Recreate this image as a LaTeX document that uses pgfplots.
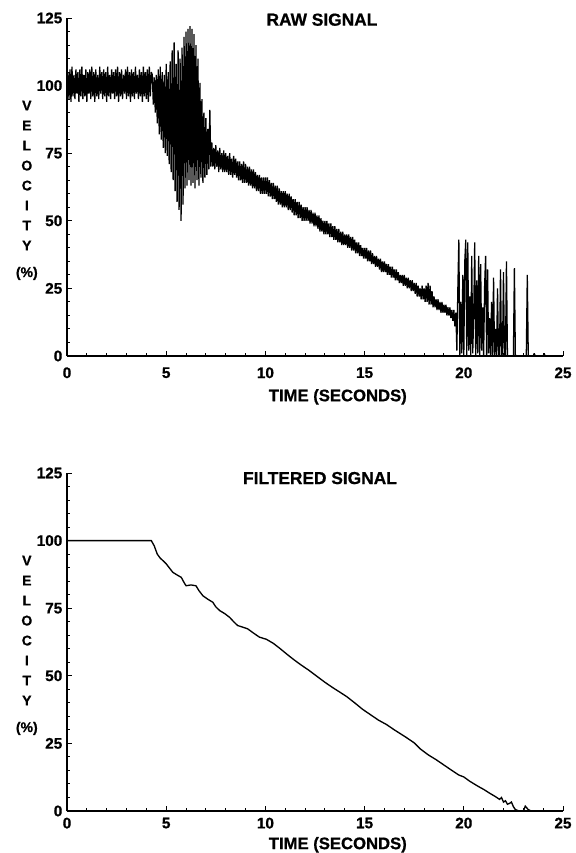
\documentclass[border=0pt]{standalone}
\usepackage{fontspec}
\setmainfont{Liberation Sans}[BoldFeatures={FakeBold=0.8}]
\usepackage{pgfplots}
\pgfplotsset{compat=1.18}

\pgfplotsset{
  velstyle/.style={
    scale only axis,
    width=372pt, height=253.5pt,
    xmin=0, xmax=25, ymin=0, ymax=125,
    axis x line*=bottom, axis y line*=left,
    axis line style={line width=1.1pt},
    xtick={0,5,...,25}, ytick={0,25,...,125},
    minor x tick num=4, minor y tick num=4,
    tick align=inside,
    major tick length=4pt, minor tick length=2.4pt,
    every tick/.style={black, line width=0.7pt},
    /pgf/number format/assume math mode=true,
    ticklabel style={font=\bfseries\fontsize{11.5}{12}\selectfont},
    ylabel={V\\E\\L\\O\\C\\I\\T\\Y\\[5pt](\%)},
    ylabel style={rotate=-90, align=center, anchor=center,
      at={(axis description cs:-0.081,0.49)},
      font=\bfseries\fontsize{10.5}{15}\selectfont},
    xlabel={TIME (SECONDS)},
    every axis title/.style={anchor=center, font=\bfseries\fontsize{13}{14}\selectfont},
  }
}

\begin{document}
\begin{tikzpicture}

% raw signal
\begin{axis}[velstyle,
  at={(0pt,0pt)}, anchor=south west,
  title={RAW SIGNAL},
  title style={at={(axis description cs:0.514,0.995)}},
  xticklabel style={yshift=-5pt},
  xlabel style={anchor=center, at={(axis description cs:0.546,-0.121)},
    font=\bfseries\fontsize{12.5}{14}\selectfont},
]
\addplot[black, line width=0.95pt, line join=bevel] coordinates {
(0.00,40)(0.00,96)(0.05,105)(0.10,95)(0.15,106)(0.20,94)(0.25,107)(0.30,96)(0.35,104)(0.40,95)(0.45,106)
(0.50,97)(0.55,105)(0.60,94)(0.65,106)(0.70,96)(0.75,107)(0.80,95)(0.85,104)(0.90,96)(0.95,106)
(1.00,94)(1.05,105)(1.10,97)(1.15,106)(1.20,95)(1.25,107)(1.30,96)(1.35,105)(1.40,94)(1.45,106)
(1.50,96)(1.55,104)(1.60,95)(1.65,107)(1.70,97)(1.75,105)(1.80,95)(1.85,106)(1.90,96)(1.95,105)
(2.00,94)(2.05,107)(2.10,96)(2.15,104)(2.20,95)(2.25,106)(2.30,97)(2.35,105)(2.40,95)(2.45,106)
(2.50,96)(2.55,107)(2.60,94)(2.65,105)(2.70,96)(2.75,106)(2.80,95)(2.85,104)(2.90,97)(2.95,106)
(3.00,95)(3.05,107)(3.10,96)(3.15,105)(3.20,94)(3.25,106)(3.30,96)(3.35,105)(3.40,95)(3.45,107)
(3.50,97)(3.55,104)(3.60,95)(3.65,106)(3.70,96)(3.75,105)(3.80,94)(3.85,107)(3.90,96)(3.95,105)
(4.00,95)(4.05,106)(4.10,94)(4.15,107)(4.20,96)(4.25,105)
(4.30,104)(4.35,93)(4.40,103)(4.45,90)(4.50,104)(4.55,86)(4.60,106)(4.65,82)(4.70,107)(4.75,80)
(4.80,105)(4.85,77)(4.90,104)(4.95,75)(5.00,108)(5.05,74)(5.10,105)(5.15,71)(5.20,109)(5.25,68)
(5.30,113)(5.35,65)(5.40,116)(5.45,61)(5.50,108)(5.55,57)(5.60,113)(5.65,54)(5.70,110)(5.75,50)
(5.80,114)(5.85,56)(5.90,118)(5.95,62)(6.00,120)(6.05,63)(6.10,121)(6.15,65)(6.20,122)(6.25,63)
(6.30,121)(6.35,64)(6.40,119)(6.45,62)(6.50,115)(6.55,65)(6.60,110)(6.65,63)(6.70,101)(6.75,66)
(6.80,95)(6.85,64)(6.90,90)(6.95,66)(7.00,88)(7.05,67)(7.10,84)(7.15,69)(7.20,91)(7.25,70)
(7.30,79)(7.35,70)(7.40,77)(7.45,69)(7.50,78)(7.55,70)(7.60,76)(7.65,68)(7.70,77)(7.75,69)
(7.80,75)(7.85,68)(7.90,76)(7.95,68)(8.00,75)
(8.05,68)(8.10,74)(8.15,67)(8.20,75)(8.25,67)(8.30,73)(8.35,66)(8.40,74)(8.45,67)(8.50,73)
(8.55,66)(8.60,72)(8.65,65)(8.70,72)(8.75,65)(8.80,71)(8.85,64)(8.90,72)(8.95,64)(9.00,71)
(9.05,64)(9.10,70)(9.15,63)(9.20,70)(9.25,63)(9.30,69)(9.35,62)(9.40,69)(9.45,62)(9.50,68)
(9.55,61)(9.60,67)(9.65,61)(9.70,67)(9.75,60)(9.80,66)(9.85,60)(9.90,66)(9.95,60)(10.00,66)
(10.05,60)(10.10,66)(10.15,59)(10.20,65)(10.25,59)(10.30,64)(10.35,58)(10.40,64)(10.45,58)(10.50,63)
(10.55,57)(10.60,63)(10.65,56)(10.70,62)(10.75,56)(10.80,61)(10.85,55)(10.90,61)(10.95,55)(11.00,61)
(11.05,55)(11.10,60)(11.15,54)(11.20,60)(11.25,54)(11.30,59)(11.35,53)(11.40,58)(11.45,52)(11.50,58)
(11.55,52)(11.60,57)(11.65,51)(11.70,57)(11.75,51)(11.80,56)(11.85,50)(11.90,55)(11.95,50)(12.00,55)
(12.05,50)(12.10,55)(12.15,50)(12.20,54)(12.25,49)(12.30,54)(12.35,49)(12.40,53)(12.45,48)(12.50,53)
(12.55,48)(12.60,52)(12.65,47)(12.70,52)(12.75,46)(12.80,51)(12.85,46)(12.90,50)(12.95,45)(13.00,50)
(13.05,45)(13.10,50)(13.15,45)(13.20,49)(13.25,44)(13.30,49)(13.35,44)(13.40,48)(13.45,43)(13.50,48)
(13.55,43)(13.60,47)(13.65,42)(13.70,47)(13.75,42)(13.80,46)(13.85,41)(13.90,46)(13.95,41)(14.00,45)
(14.05,41)(14.10,45)(14.15,40)(14.20,45)(14.25,40)(14.30,44)(14.35,39)(14.40,44)(14.45,39)(14.50,43)
(14.55,38)(14.60,42)(14.65,38)(14.70,42)(14.75,37)(14.80,41)(14.85,37)(14.90,40)(14.95,36)(15.00,40)
(15.05,36)(15.10,40)(15.15,35)(15.20,39)(15.25,35)(15.30,39)(15.35,34)(15.40,38)(15.45,34)(15.50,37)
(15.55,33)(15.60,37)(15.65,33)(15.70,36)(15.75,32)(15.80,36)(15.85,31)(15.90,35)(15.95,31)(16.00,35)
(16.05,31)(16.10,34)(16.15,30)(16.20,34)(16.25,30)(16.30,33)(16.35,29)(16.40,33)(16.45,29)(16.50,32)
(16.55,28)(16.60,32)(16.65,28)(16.70,31)(16.75,27)(16.80,30)(16.85,27)(16.90,30)(16.95,26)(17.00,30)
(17.05,26)(17.10,29)(17.15,25)(17.20,29)(17.25,25)(17.30,28)(17.35,24)(17.40,28)(17.45,24)(17.50,27)
(17.55,23)(17.60,27)(17.65,22)(17.70,26)(17.75,22)(17.80,25)(17.85,21)(17.90,26)(17.95,21)(18.00,25)
(18.05,20)(18.10,26)(18.15,20)(18.20,27)(18.25,19)(18.30,26)(18.35,19)(18.40,24)(18.45,18)(18.50,22)
(18.55,18)(18.60,21)(18.65,17)(18.70,21)(18.75,17)(18.80,20)(18.85,16)(18.90,20)(18.95,16)(19.00,19)
(19.05,16)(19.10,19)(19.15,15)(19.20,18)(19.25,15)(19.30,18)(19.35,14)(19.40,17)(19.45,13)(19.50,17)
(19.55,11)(19.60,16)
(19.65,2)(19.70,25)(19.75,43)(19.80,0)(19.85,20)(19.90,1)(19.95,30)(20.00,0)(20.05,35)(20.10,43)
(20.15,0)(20.20,42)(20.25,2)(20.30,22)(20.35,0)(20.40,37)(20.45,1)(20.50,15)(20.55,42)(20.60,0)
(20.65,28)(20.70,1)(20.75,37)(20.80,0)(20.85,34)(20.90,2)(20.95,18)(21.00,0)(21.05,26)(21.10,37)
(21.15,0)(21.20,32)(21.25,1)(21.30,14)(21.35,0)(21.40,20)(21.45,0)(21.50,29)(21.55,0)(21.60,10)
(21.65,0)(21.70,25)(21.75,0)(21.80,0)(21.85,32)(21.90,0)(21.95,1)(22.00,31)(22.05,0)(22.10,0)
(22.15,35)(22.20,0)(22.50,0)(22.55,32.5)(22.60,0)(23.15,0)(23.20,30)(23.25,0)(23.50,0)(23.55,1)
(23.60,0)(24.00,0)(24.05,1)(24.10,0)(25.00,0)
};
\end{axis}

% filtered signal
\begin{axis}[velstyle,
  at={(0pt,-341.25pt)}, anchor=south west,
  title={FILTERED SIGNAL},
  title style={at={(axis description cs:0.51,0.985)}},
  xticklabel style={yshift=-1.5pt},
  xlabel style={anchor=center, at={(axis description cs:0.546,-0.1)},
    font=\bfseries\fontsize{12.5}{14}\selectfont},
]
\addplot[black, line width=1.0pt] coordinates {
(0,0)(0,100)(4.25,100)(4.40,98)(4.55,95)(4.70,93.5)(4.85,92.5)(5.00,91.4)(5.15,90)(5.33,88.3)
(5.50,87.5)(5.76,86.4)(5.90,84.5)(6.00,83.3)(6.25,83.6)(6.50,83.3)(6.65,81.5)(6.85,79.6)(7.10,78.3)
(7.35,77.2)(7.50,75.5)(7.70,74.1)(7.95,73)(8.20,71.6)(8.40,70)(8.60,68.6)(8.85,68)(9.10,67.4)
(9.40,65.8)(9.70,64.3)(10.05,63.5)(10.40,62)(10.70,60.3)(11.00,58.5)(11.20,57.3)(11.50,55.6)
(11.80,54)(12.20,52)(12.60,49.8)(13.00,47.6)(13.40,45.6)(13.70,44.2)(14.10,42.3)(14.50,40)
(14.90,37.6)(15.30,35.6)(15.70,33.6)(16.10,32)(16.50,30)(16.80,28.6)(17.10,27.2)(17.50,25.2)
(17.80,23)(18.20,20.8)(18.60,19)(19.00,17)(19.40,15)(19.75,13.3)(20.00,12.6)(20.30,11)(20.75,9)
(21.00,8)(21.30,6.6)(21.60,5.3)(21.80,4.3)(21.90,5)(22.00,3.3)(22.10,3.8)(22.20,2.5)(22.30,2.8)
(22.40,3.3)(22.50,1.6)(22.60,0.5)(22.80,0)(23.00,0)(23.10,1.8)(23.25,0.5)(23.40,0)(23.60,0)
};
\end{axis}

\pgfresetboundingbox
\path[use as bounding box] (-50.25pt,-372.75pt) rectangle (381pt,267pt);
\end{tikzpicture}
\end{document}
